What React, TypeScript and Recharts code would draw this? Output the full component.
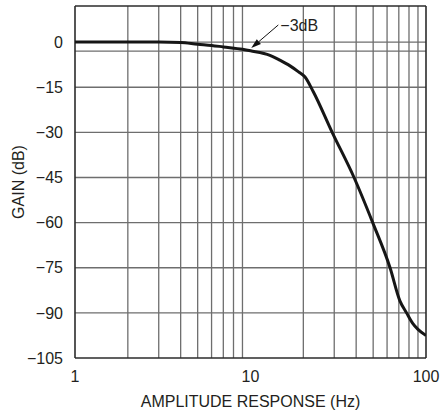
import React from 'react';
import { LineChart, Line, XAxis, YAxis, ReferenceLine } from 'recharts';

const FREQ = [1, 2, 3, 4, 5, 6, 7, 9, 10, 12.9, 14.7, 16.8, 18.7, 20.45, 22.8, 29.2, 38.9, 49.7, 62.4, 71, 77.5, 84, 90, 100];
const GAIN = [0, 0, 0, -0.1, -0.7, -1.1, -1.6, -2.4, -2.9, -4.4, -6.0, -7.9, -9.8, -11.6, -16.5, -30, -45, -60, -75, -86, -90, -93.5, -95.5, -97.5];
const X_TICKS = [1, 10, 100];
const Y_TICKS = [0, -15, -30, -45, -60, -75, -90, -105];
const X_GRID = [2, 3, 4, 5, 6, 7, 8, 9, 20, 30, 40, 50, 60, 70, 80, 90];
const Y_GRID = [0, -3, -15, -30, -45, -60, -75, -90];
const X_DOMAIN = [1, 100];
const Y_DOMAIN = [-105, 12];
const ANNOT_TEXT = '\u22123dB';
const ANNOT_FROM = { x: 14.4, y: 5.7 };
const ANNOT_TO = { x: 10.1, y: -2.0 };

const data = FREQ.map((f, i) => ({ f, g: GAIN[i] }));

const FONT = '"Liberation Sans", Arial, Helvetica, sans-serif';
const TEXT_COLOR = '#231f20';
const GRID_COLOR = '#6e6e6e';
const BORDER_COLOR = '#2b2b2b';

const fmtY = (v: number) => (v < 0 ? '\u2212' + Math.abs(v) : String(v));

const ArrowShape = (props: any) => {
  const { x1, y1, x2, y2 } = props;
  if (x1 == null || y1 == null || x2 == null || y2 == null) return null;
  const dx = x2 - x1;
  const dy = y2 - y1;
  const len = Math.sqrt(dx * dx + dy * dy);
  const ux = dx / len;
  const uy = dy / len;
  const hl = 10;
  const hw = 3.2;
  const bx = x2 - ux * hl;
  const by = y2 - uy * hl;
  const p1 = `${x2},${y2}`;
  const p2 = `${bx - uy * hw},${by + ux * hw}`;
  const p3 = `${bx + uy * hw},${by - ux * hw}`;
  return (
    <g>
      <line x1={x1} y1={y1} x2={bx} y2={by} stroke="#111" strokeWidth={1} />
      <polygon points={`${p1} ${p2} ${p3}`} fill="#111" />
      <text x={x1 + 2} y={y1 + 5.8} fontFamily={FONT} fontSize={16} fill={TEXT_COLOR}>
        {ANNOT_TEXT}
      </text>
    </g>
  );
};

const YLabel = (props: any) => {
  const vb = props.viewBox || { x: 0, y: 6, width: 75, height: 352 };
  const cx = 18.5;
  const cy = vb.y + vb.height / 2;
  return (
    <text
      x={cx}
      y={cy}
      transform={`rotate(-90 ${cx} ${cy})`}
      textAnchor="middle"
      dominantBaseline="central"
      fontFamily={FONT}
      fontSize={16}
      fill={TEXT_COLOR}
    >
      GAIN (dB)
    </text>
  );
};

export default function App() {
  return (
    <div style={{ position: 'absolute', left: 0, top: 0 }}>
      <LineChart width={443} height={415} data={data} margin={{ top: 6, right: 17, left: 0, bottom: 0 }}>
        <XAxis
          dataKey="f"
          type="number"
          scale="log"
          domain={X_DOMAIN}
          ticks={X_TICKS}
          allowDataOverflow
          axisLine={false}
          tickLine={false}
          tickSize={6}
          tickMargin={7}
          height={57}
          interval={0}
          tick={{ fontFamily: FONT, fontSize: 16, fill: TEXT_COLOR }}
          label={{ value: 'AMPLITUDE RESPONSE (Hz)', position: 'insideBottom', offset: 8, fontFamily: FONT, fontSize: 16, fill: TEXT_COLOR }}
        />
        <YAxis
          type="number"
          domain={Y_DOMAIN}
          ticks={Y_TICKS}
          allowDataOverflow
          axisLine={false}
          tickLine={false}
          tickSize={6}
          tickMargin={6}
          width={75}
          interval={0}
          tickFormatter={fmtY}
          tick={{ fontFamily: FONT, fontSize: 16, fill: TEXT_COLOR }}
          label={{ content: (p: any) => <YLabel {...p} /> }}
        />
        {X_GRID.map((x) => (
          <ReferenceLine key={'vx' + x} x={x} stroke={GRID_COLOR} strokeWidth={1.3} />
        ))}
        {Y_GRID.map((y) => (
          <ReferenceLine key={'hy' + y} y={y} stroke={GRID_COLOR} strokeWidth={1.3} />
        ))}
        <ReferenceLine x={X_DOMAIN[0]} stroke={BORDER_COLOR} strokeWidth={1.6} />
        <ReferenceLine x={X_DOMAIN[1]} stroke={BORDER_COLOR} strokeWidth={1.6} />
        <ReferenceLine y={Y_DOMAIN[0]} stroke={BORDER_COLOR} strokeWidth={1.6} />
        <ReferenceLine y={Y_DOMAIN[1]} stroke={BORDER_COLOR} strokeWidth={1.6} />
        <Line
          type="monotone"
          dataKey="g"
          stroke="#161616"
          strokeWidth={3}
          dot={false}
          isAnimationActive={false}
        />
        <ReferenceLine
          segment={[ANNOT_FROM, ANNOT_TO]}
          ifOverflow="visible"
          shape={(p: any) => <ArrowShape {...p} />}
        />
      </LineChart>
    </div>
  );
}
